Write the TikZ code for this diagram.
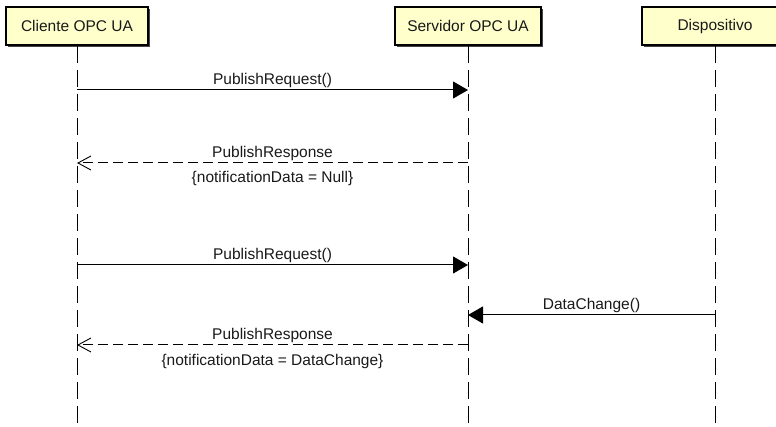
\documentclass[tikz,border=0pt]{standalone}
\usepackage{fontspec}
\setmainfont{Liberation Sans}
\usetikzlibrary{arrows.meta,shadows}
\definecolor{boxfill}{RGB}{255,255,204}
\definecolor{shadowgray}{RGB}{70,70,70}
\definecolor{inkgray}{RGB}{25,25,25}
\begin{document}
\begin{tikzpicture}[x=1pt,y=-1pt,
  font=\fontsize{15.5}{18}\selectfont,
  actor/.style={draw=black, line width=1.2pt, fill=boxfill, minimum height=38pt,
    inner sep=0pt, text=inkgray,
    drop shadow={shadow xshift=2pt, shadow yshift=-2pt, fill=shadowgray, opacity=1}},
  lifeline/.style={draw=black, line width=1pt, dash pattern=on 17pt off 7pt},
  callmsg/.style={line width=1pt, -{Triangle[length=15pt,width=17pt]}},
  replymsg/.style={line width=1pt, dash pattern=on 10pt off 5pt,
    -{Straight Barb[length=13pt,width=14pt,line width=0.9pt]}},
  above label/.style={anchor=base, inner sep=0pt, text=inkgray, yshift=5.5pt},
  below label/.style={anchor=base, inner sep=0pt, text=inkgray, yshift=-20pt},
]
\useasboundingbox (0,0) rectangle (776,427);
\clip (0,0) rectangle (776,427);

% participants
\node[actor, minimum width=142pt] (cli) at (77,26)  {Cliente OPC UA};
\node[actor, minimum width=146pt] (srv) at (468,26) {Servidor OPC UA};
\node[actor, minimum width=146pt] (dev) at (715,26) {Dispositivo};

% lifeline ends
\coordinate (cliEnd) at (77,427);
\coordinate (srvEnd) at (468,427);
\coordinate (devEnd) at (715,427);

\draw[lifeline] (cli.south) -- (cliEnd);
\draw[lifeline] (srv.south) -- (srvEnd);
\draw[lifeline] (dev.south) -- (devEnd);

% message anchor points on the lifelines
\coordinate (c1) at (77,90);   \coordinate (s1) at (468,90);
\coordinate (c2) at (77,163);  \coordinate (s2) at (468,163);
\coordinate (c3) at (77,265);  \coordinate (s3) at (468,265);
\coordinate (s4) at (468,315); \coordinate (d4) at (715,315);
\coordinate (c5) at (77,345);  \coordinate (s5) at (468,345);

% messages
\draw[callmsg] (c1) -- node[above label] {PublishRequest()} (s1);
\draw[replymsg] (s2) -- node[above label] {PublishResponse}
                        node[below label] {\{notificationData = Null\}} (c2);
\draw[callmsg] (c3) -- node[above label] {PublishRequest()} (s3);
\draw[callmsg] (d4) -- node[above label] {DataChange()} (s4);
\draw[replymsg] (s5) -- node[above label] {PublishResponse}
                        node[below label] {\{notificationData = DataChange\}} (c5);
\end{tikzpicture}
\end{document}
